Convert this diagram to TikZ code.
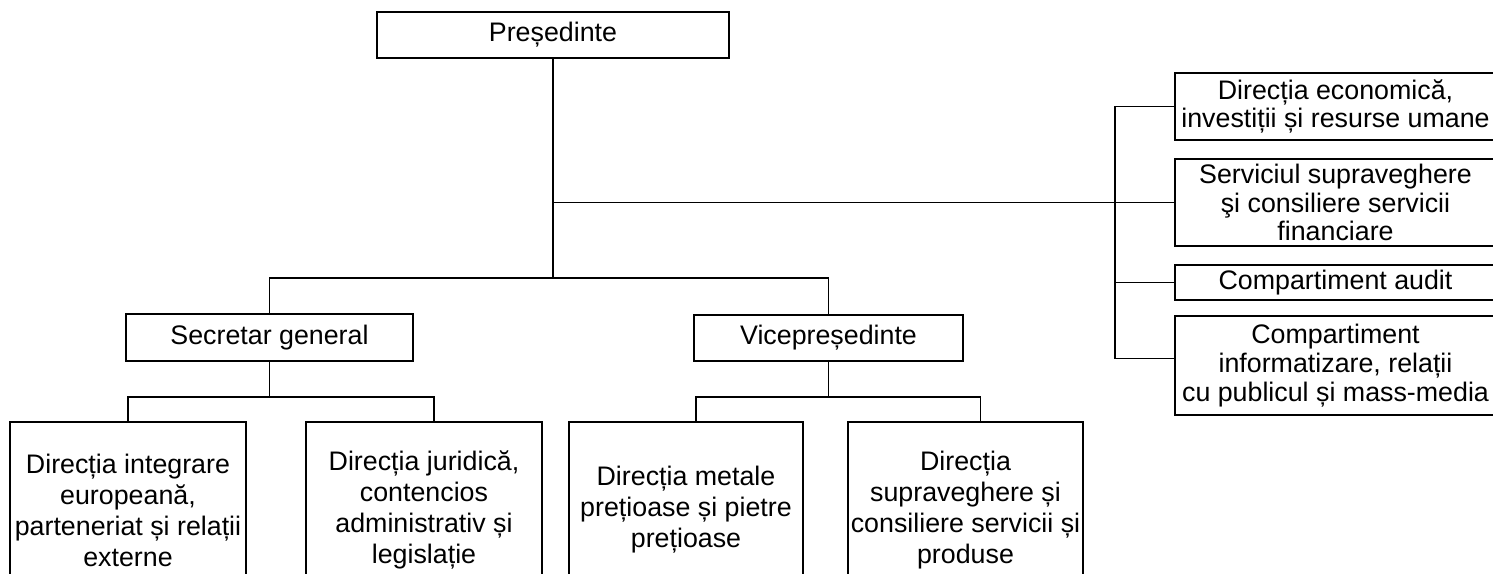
\documentclass[tikz,border=0pt]{standalone}
\usepackage{fontspec}
\setmainfont{Liberation Sans}
\begin{document}
\begin{tikzpicture}[x=0.5pt,y=-0.5pt,
  box/.style={draw, line width=0.8pt, align=center, inner sep=0pt,
    font=\fontsize{13.4pt}{14.4pt}\selectfont},
  tallbox/.style={box, font=\fontsize{13.4pt}{15.5pt}\selectfont},
  conn/.style={line width=0.8pt}]
\useasboundingbox (0,0) rectangle (1493,573);
\clip (0,0) rectangle (1493,573);
% top
\node[box, minimum width=176pt, minimum height=23pt] (pres) at (553,35) {Președinte};
% level 2
\node[box, minimum width=143.5pt, minimum height=23.5pt] (sec) at (269.5,337.5) {Secretar general};
\node[box, minimum width=134.5pt, minimum height=23pt] (vice) at (828.5,338) {Vicepreședinte};
% bottom boxes
\node[tallbox, minimum width=118pt, minimum height=88pt] (b1) at (128,510) {Direcția integrare\\europeană,\\parteneriat și relații\\externe};
\node[tallbox, minimum width=118pt, minimum height=88pt] (b2) at (424,510) {Direcția juridică,\\contencios\\administrativ și\\legislație};
\node[tallbox, minimum width=117pt, minimum height=88pt] (b3) at (686,510) {Direcția metale\\prețioase și pietre\\prețioase};
\node[tallbox, minimum width=117.5pt, minimum height=88pt] (b4) at (965.5,510) {Direcția\\supraveghere și\\consiliere servicii și\\produse};
% right column
\node[box, minimum width=160.5pt, minimum height=33.5pt] (r1) at (1335.5,106.5) {Direcția economică,\\investiții și resurse umane};
\node[box, minimum width=160.5pt, minimum height=43.5pt] (r2) at (1335.5,202.5) {Serviciul supraveghere\\şi consiliere servicii\\financiare};
\node[box, minimum width=160.5pt, minimum height=17.5pt] (r3) at (1335.5,282.5) {Compartiment audit};
\node[box, minimum width=160.5pt, minimum height=49.5pt] (r4) at (1335.5,365.5) {Compartiment\\informatizare, relații\\cu publicul și mass-media};
% junction coordinates
\coordinate (jmid) at (553,278);
\coordinate (jsec) at (269.5,397);
\coordinate (jvice) at (828.5,397);
\coordinate (spine) at (1115,202.5);
% connectors: president
\draw[conn] (pres.south) -- (jmid);
\draw[conn] (sec.north) |- (jmid) -| (vice.north);
\draw[conn] (pres.south |- r2.west) -- (r2.west);
\draw[conn] (r1.west) -| (spine) |- ([yshift=3.5pt]r4.west);
\draw[conn] (r3.west) -- (r3.west -| spine);
% secretary branch
\draw[conn] (sec.south) -- (jsec);
\draw[conn] (b1.north) |- (jsec) -| ([xshift=5pt]b2.north);
% vice branch
\draw[conn] (vice.south) -- (jvice);
\draw[conn] ([xshift=5pt]b3.north) |- (jvice) -| ([xshift=7.5pt]b4.north);
\end{tikzpicture}
\end{document}
